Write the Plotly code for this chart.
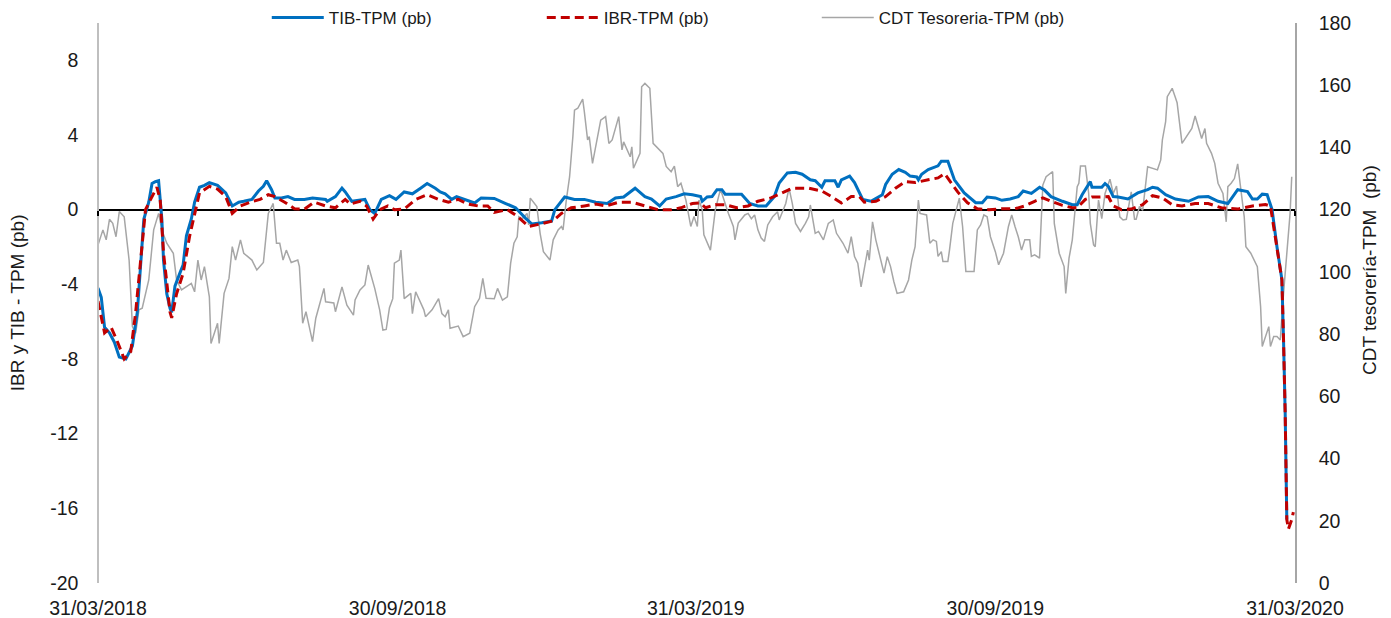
import pandas as pd
import plotly.graph_objects as go

# ---------------- data ----------------
START = "2018-03-31"

# TIB - TPM (pb), left axis; days counted from 31/03/2018
tib_days = [0, 2, 4, 7, 10, 13, 17, 21, 24, 26, 28, 31, 33, 35, 37, 39, 40, 42, 44, 45, 47, 50, 52, 54, 57,
            59, 62, 65, 68, 73, 78, 82, 86, 89, 94, 98, 101, 103, 106, 108, 112, 116, 120, 126, 131, 139,
            140, 145, 149, 151, 155, 163, 166, 169, 173, 178, 182, 187, 192, 197, 201, 206, 209, 212, 216,
            219, 224, 230, 234, 242, 249, 255, 261, 265, 271, 277, 279, 282, 285, 291, 297, 304, 311, 316,
            321, 328, 334, 338, 343, 347, 353, 358, 363, 368, 369, 372, 375, 378, 381, 383, 393, 398, 403,
            408, 413, 416, 421, 426, 430, 435, 438, 442, 444, 450, 452, 454, 459, 462, 467, 472, 479, 481,
            485, 489, 493, 496, 500, 501, 503, 507, 513, 515, 519, 523, 529, 536, 540, 543, 548, 552, 557,
            562, 565, 570, 575, 578, 582, 589, 595, 598, 601, 606, 607, 613, 615, 617, 620, 623, 629, 635,
            641, 644, 647, 652, 658, 666, 672, 678, 684, 690, 694, 696, 702, 705, 708, 711, 714, 717, 720,
            723, 724, 725, 726]
tib_vals = [-4.2, -4.7, -6.3, -6.6, -7.1, -7.9, -8.0, -7.3, -5.5, -2.7, -0.5, 0.4, 1.4, 1.5, 1.55, -0.5,
            -2.7, -4.5, -5.3, -5.5, -4.1, -3.4, -2.95, -1.4, -0.5, 0.4, 1.2, 1.3, 1.45, 1.3, 0.9, 0.2, 0.4,
            0.45, 0.55, 1.0, 1.25, 1.55, 1.07, 0.63, 0.63, 0.7, 0.55, 0.55, 0.63, 0.55, 0.45, 0.7, 1.15,
            0.95, 0.45, 0.55, 0.0, -0.2, 0.55, 0.75, 0.55, 0.95, 0.85, 1.15, 1.4, 1.15, 0.95, 0.85, 0.55,
            0.7, 0.55, 0.36, 0.63, 0.6, 0.33, 0.1, -0.45, -0.77, -0.7, -0.6, 0.0, 0.35, 0.68, 0.55, 0.55,
            0.4, 0.33, 0.63, 0.68, 1.15, 0.7, 0.57, 0.2, 0.57, 0.7, 0.85, 0.8, 0.7, 0.45, 0.68, 0.7, 1.07,
            1.07, 0.83, 0.83, 0.33, 0.2, 0.2, 0.7, 1.43, 1.97, 2.0, 1.9, 1.6, 1.55, 1.2, 1.55, 1.55, 1.2,
            1.6, 1.8, 1.45, 0.55, 0.45, 0.8, 1.35, 1.9, 2.15, 2.0, 1.8, 1.75, 1.6, 1.9, 2.15, 2.35, 2.6,
            2.6, 1.6, 0.9, 0.37, 0.37, 0.68, 0.63, 0.5, 0.57, 0.7, 1.0, 0.87, 1.2, 1.05, 0.7, 0.45, 0.27,
            0.27, 0.8, 1.5, 1.2, 1.2, 1.4, 1.25, 0.7, 0.68, 0.57, 0.9, 1.07, 1.2, 1.15, 0.8, 0.57, 0.45,
            0.68, 0.7, 0.45, 0.33, 0.8, 1.07, 0.97, 0.57, 0.57, 0.83, 0.8, 0.0, -2.0, -3.75, -7.0, -10.9,
            -16.6]

# IBR - TPM (pb), left axis
ibr_days = [0, 4, 8, 12, 16, 20, 23, 26, 29, 33, 36, 38, 40, 44, 45, 48, 52, 56, 60, 62, 68, 73, 78, 82,
            87, 93, 99, 104, 108, 114, 120, 126, 132, 139, 145, 151, 154, 160, 164, 168, 172, 177, 181,
            187, 194, 201, 208, 214, 220, 226, 232, 238, 242, 250, 256, 263, 271, 278, 283, 289, 297, 304,
            310, 318, 326, 334, 342, 350, 356, 363, 368, 371, 377, 383, 390, 397, 403, 411, 418, 424, 434,
            442, 448, 454, 460, 465, 468, 475, 481, 487, 493, 499, 507, 513, 517, 521, 525, 531, 537, 544,
            552, 560, 566, 572, 577, 582, 589, 595, 598, 603, 607, 612, 617, 620, 625, 631, 638, 644, 650,
            656, 662, 670, 678, 686, 696, 705, 713, 716, 720, 723, 724, 725, 726, 727, 729, 730]
ibr_vals = [-4.9, -6.6, -6.3, -7.1, -8.0, -7.6, -5.5, -2.7, 0.0, 0.7, 1.2, 0.5, -2.3, -5.5, -5.8, -4.5,
            -3.4, -1.4, 0.2, 0.9, 1.25, 1.1, 0.7, -0.2, 0.2, 0.4, 0.55, 0.8, 0.7, 0.4, 0.05, 0.03, 0.4,
            0.2, 0.1, 0.55, 0.3, 0.45, 0.2, -0.5, 0.0, 0.2, 0.0, 0.03, 0.55, 0.8, 0.55, 0.4, 0.55, 0.3,
            0.2, 0.2, -0.15, 0.0, -0.35, -0.9, -0.75, -0.6, -0.2, 0.1, 0.2, 0.3, 0.2, 0.4, 0.4, 0.2, 0.0,
            0.0, 0.1, 0.33, 0.36, 0.1, 0.27, 0.27, 0.1, 0.2, 0.45, 0.63, 0.9, 1.15, 1.15, 1.0, 0.7, 0.36,
            0.7, 0.7, 0.4, 0.45, 0.7, 1.15, 1.5, 1.45, 1.6, 1.7, 1.93, 1.45, 0.95, 0.37, 0.05, 0.0, 0.05,
            0.05, 0.2, 0.45, 0.63, 0.45, 0.23, 0.1, 0.1, 0.55, 0.68, 0.68, 0.7, 0.2, 0.0, 0.03, 0.27,
            0.75, 0.63, 0.27, 0.2, 0.33, 0.33, 0.1, 0.03, 0.2, 0.27, 0.2, -2.0, -3.75, -7.0, -10.9, -16.6,
            -17.1, -16.6, -16.2]

# CDT Tesoreria - TPM (pb), right axis
cdt_days = [0, 3, 5, 7, 9, 11, 13, 16, 19, 21, 23, 25, 27, 31, 34, 37, 39, 42, 46, 48, 51, 54, 57, 59, 61,
            63, 65, 68, 69, 73, 74, 77, 80, 82, 84, 87, 89, 94, 97, 101, 104, 107, 109, 111, 113, 115, 118,
            122, 123, 125, 127, 129, 131, 133, 136, 138, 139, 144, 145, 149, 152, 156, 157, 160, 163, 165,
            169, 172, 174, 176, 178, 180, 181, 184, 185, 187, 191, 192, 194, 197, 199, 200, 204, 208, 210,
            212, 214, 215, 220, 223, 227, 230, 233, 235, 237, 242, 244, 247, 250, 252, 254, 256, 257, 259,
            262, 263, 264, 268, 270, 272, 276, 278, 281, 283, 284, 286, 288, 290, 291, 293, 296, 297, 299,
            300, 302, 307, 310, 312, 314, 318, 320, 321, 325, 326, 327, 331, 332, 334, 337, 339, 342, 345,
            347, 350, 352, 354, 356, 359, 362, 364, 366, 367, 369, 370, 374, 377, 380, 381, 385, 388, 389,
            391, 395, 397, 399, 401, 403, 405, 407, 409, 412, 415, 416, 420, 422, 424, 426, 429, 432, 434,
            435, 438, 440, 443, 446, 449, 451, 455, 458, 460, 462, 464, 466, 470, 471, 473, 475, 477, 480,
            482, 484, 486, 488, 492, 495, 497, 499, 501, 502, 506, 508, 510, 512, 513, 515, 516, 519, 520,
            522, 526, 528, 530, 535, 537, 539, 541, 543, 545, 548, 550, 553, 556, 558, 560, 562, 564, 566,
            569, 570, 572, 575, 577, 579, 583, 584, 587, 590, 591, 593, 595, 598, 599, 600, 603, 605, 606,
            608, 609, 611, 613, 615, 618, 620, 622, 624, 626, 628, 631, 633, 634, 636, 638, 641, 647, 649,
            650, 652, 653, 656, 658, 659, 662, 665, 668, 670, 672, 674, 676, 677, 680, 682, 684, 687, 689,
            690, 692, 694, 696, 698, 700, 701, 704, 708, 710, 711, 713, 715, 716, 718, 720, 722, 724, 726,
            728, 729]
cdt_vals = [108.6, 113.5, 110.3, 116.9, 115.6, 111.3, 119.4, 117.7, 103.8, 82.4, 80.3, 87.8, 88.3, 97.4,
            113.5, 118.8, 113.5, 109.2, 106.0, 97.4, 94.2, 95.2, 96.3, 93.6, 103.8, 97.4, 101.7, 92.0, 77.0,
            83.5, 77.0, 93.1, 97.9, 108.1, 103.8, 110.3, 106.0, 103.8, 100.6, 103.0, 118.8, 122.0, 109.2,
            109.2, 103.8, 107.0, 103.0, 103.8, 101.7, 83.5, 87.2, 82.4, 77.6, 85.1, 91.0, 94.7, 90.4, 90.0,
            87.2, 95.2, 89.3, 86.1, 91.0, 94.2, 95.8, 102.2, 94.7, 87.8, 81.3, 81.5, 88.5, 91.4, 102.8,
            103.8, 107.0, 91.4, 93.1, 86.6, 93.6, 90.0, 87.8, 85.6, 87.8, 91.4, 86.6, 85.6, 87.8, 81.9,
            82.6, 79.2, 80.3, 88.8, 91.5, 97.9, 91.5, 91.4, 94.7, 90.9, 92.0, 102.8, 109.2, 111.3, 117.7,
            117.1, 118.8, 115.1, 123.7, 121.0, 112.4, 106.5, 103.8, 110.3, 113.5, 114.6, 113.5, 123.1,
            130.6, 143.5, 152.0, 152.6, 155.5, 151.5, 142.4, 143.5, 134.9, 148.8, 149.9, 141.3, 142.4,
            149.9, 139.2, 141.8, 137.0, 140.2, 133.3, 138.1, 159.5, 160.6, 159.0, 141.3, 139.7, 138.1,
            133.9, 132.2, 134.0, 127.4, 128.5, 123.1, 114.6, 117.8, 114.6, 123.1, 120.0, 111.9, 107.0,
            120.0, 126.3, 125.2, 118.8, 114.6, 110.3, 115.7, 118.3, 118.8, 117.1, 118.3, 113.5, 110.9,
            109.8, 115.1, 117.7, 119.3, 116.7, 122.0, 126.9, 122.0, 115.6, 113.0, 115.6, 117.7, 121.5,
            112.4, 113.0, 110.3, 115.6, 116.7, 112.4, 109.2, 106.0, 111.3, 104.9, 102.8, 95.2, 107.0,
            103.8, 116.1, 110.3, 106.0, 99.6, 104.9, 101.7, 96.9, 93.1, 93.6, 97.4, 103.8, 108.1, 123.1,
            118.8, 118.3, 109.2, 110.3, 109.8, 105.0, 106.5, 103.3, 103.3, 107.0, 115.6, 123.7, 114.6,
            100.1, 100.1, 113.5, 115.1, 118.3, 117.7, 111.3, 106.5, 102.3, 106.0, 114.6, 118.3, 114.6,
            111.3, 107.0, 110.3, 110.3, 105.0, 105.5, 104.4, 127.9, 130.6, 132.2, 115.6, 106.0, 101.7,
            93.1, 104.4, 110.3, 127.4, 128.5, 134.0, 134.0, 125.2, 115.6, 108.7, 108.1, 123.1, 117.1,
            125.2, 129.8, 125.2, 127.6, 117.7, 116.7, 116.9, 125.7, 116.9, 116.9, 121.0, 119.8, 133.8,
            132.8, 136.0, 142.4, 148.3, 156.3, 159.0, 156.0, 154.4, 141.3, 143.5, 146.1, 150.1, 146.6,
            142.9, 146.1, 141.3, 138.1, 134.9, 128.5, 125.2, 116.1, 127.4, 128.5, 130.0, 134.7, 125.2,
            117.7, 108.1, 106.0, 101.7, 88.8, 76.0, 79.2, 82.4, 76.0, 79.2, 79.2, 78.1, 93.1, 106.0, 118.8,
            130.6]

x_tick_dates = ["2018-03-31", "2018-09-30", "2019-03-31", "2019-09-30", "2020-03-31"]
x_tick_text = ["31/03/2018", "30/09/2018", "31/03/2019", "30/09/2019", "31/03/2020"]
left_ticks = [-20, -16, -12, -8, -4, 0, 4, 8]
left_range = [-20, 10]
right_ticks = [0, 20, 40, 60, 80, 100, 120, 140, 160, 180]
right_range = [0, 180]

# ---------------- figure ----------------
start = pd.Timestamp(START)
def to_dates(days):
    return start + pd.to_timedelta(days, unit="D")

FONT = "Liberation Sans, Arial, sans-serif"
TXT = "#1a1a1a"
TICK = 19.5

fig = go.Figure()
fig.add_trace(go.Scatter(x=to_dates(cdt_days), y=cdt_vals, name="CDT Tesoreria-TPM (pb)",
                         mode="lines", line=dict(color="#A6A6A6", width=1.5),
                         xaxis="x", yaxis="y", legendrank=3))
fig.add_trace(go.Scatter(x=to_dates(tib_days), y=tib_vals, name="TIB-TPM (pb)",
                         mode="lines", line=dict(color="#0070C0", width=3),
                         xaxis="x2", yaxis="y2", legendrank=1))
fig.add_trace(go.Scatter(x=to_dates(ibr_days), y=ibr_vals, name="IBR-TPM (pb)",
                         mode="lines", line=dict(color="#C00000", width=3, dash="9px,5px"),
                         xaxis="x2", yaxis="y2", legendrank=2))

x_range = [x_tick_dates[0], x_tick_dates[-1]]
zero_pos = (0 - left_range[0]) / (left_range[1] - left_range[0])

# the page body adds an 8px offset, so the figure is 8px smaller than the window
fig.update_layout(
    width=1383, height=610,
    margin=dict(l=90, r=96, t=15, b=35, autoexpand=False),
    paper_bgcolor="white", plot_bgcolor="white",
    font=dict(family=FONT, color=TXT, size=TICK),
    showlegend=True,
    legend=dict(orientation="h", x=0.141, xanchor="left", y=1.009, yanchor="middle",
                font=dict(size=17, family=FONT, color=TXT), itemwidth=52,
                entrywidth=208, bgcolor="rgba(0,0,0,0)", traceorder="normal"),
    xaxis=dict(type="date", range=x_range, tickvals=x_tick_dates, ticktext=x_tick_text,
               ticks="outside", ticklen=8, tickcolor="rgba(0,0,0,0)", showgrid=False,
               showline=False, zeroline=False, tickfont=dict(size=TICK), anchor="y"),
    xaxis2=dict(type="date", range=x_range, tickvals=x_tick_dates, overlaying="x",
                anchor="free", position=zero_pos, ticks="outside", ticklen=5, tickwidth=1.5,
                tickcolor="#000000", showticklabels=False, showgrid=False, showline=False,
                zeroline=False),
    yaxis=dict(range=right_range, tickvals=right_ticks, ticktext=[str(v) for v in right_ticks],
               side="right", anchor="x",
               showgrid=False, zeroline=False, showline=True, linecolor="#A6A6A6", linewidth=1.5,
               ticks="outside", ticklen=18, tickcolor="rgba(0,0,0,0)", tickfont=dict(size=TICK)),
    yaxis2=dict(range=left_range, tickvals=left_ticks, ticktext=[str(v) for v in left_ticks],
                side="left", overlaying="y",
                anchor="free", position=0, showgrid=False, zeroline=True, zerolinecolor="#000000",
                zerolinewidth=1.5, showline=True, linecolor="#BFBFBF", linewidth=1.5,
                ticks="outside", ticklen=15, tickcolor="rgba(0,0,0,0)", tickfont=dict(size=TICK)),
    annotations=[
        dict(text="IBR y TIB - TPM (pb)", xref="paper", yref="paper", x=-0.0675, y=0.5,
             xanchor="center", yanchor="middle", textangle=-90, showarrow=False,
             font=dict(size=19, family=FONT, color=TXT), borderpad=0),
        dict(text="CDT tesorería-TPM\u00a0 (pb)", xref="paper", yref="paper", x=1.0627, y=0.559,
             xanchor="center", yanchor="middle", textangle=-90, showarrow=False,
             font=dict(size=19, family=FONT, color=TXT), borderpad=0),
    ],
)

fig.write_html("out.html")
